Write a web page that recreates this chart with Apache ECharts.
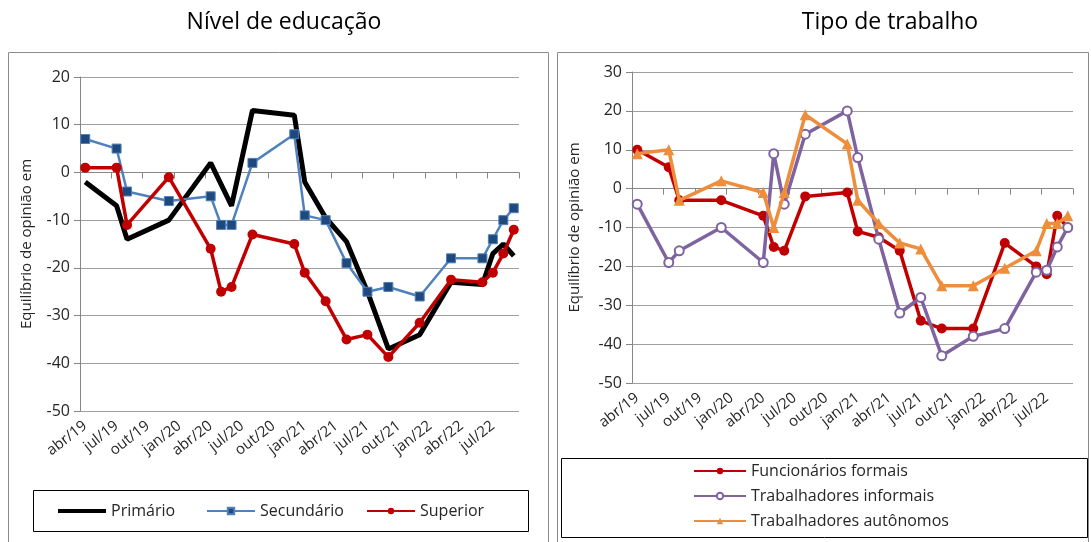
<!DOCTYPE html>
<html>
<head>
<meta charset="utf-8">
<script src="https://cdn.jsdelivr.net/npm/echarts@6/dist/echarts.min.js"></script>
<style>
html,body{margin:0;padding:0;background:#fff;}
#c{width:1091px;height:542px;}
</style>
</head>
<body>
<div id="c"></div>
<script>
const months = ['abr/19','mai/19','jun/19','jul/19','ago/19','set/19','out/19','nov/19','dez/19',
  'jan/20','fev/20','mar/20','abr/20','mai/20','jun/20','jul/20','ago/20','set/20','out/20','nov/20','dez/20',
  'jan/21','fev/21','mar/21','abr/21','mai/21','jun/21','jul/21','ago/21','set/21','out/21','nov/21','dez/21',
  'jan/22','fev/22','mar/22','abr/22','mai/22','jun/22','jul/22','ago/22','set/22'];
// quarter ticks on the zero axis (one band per quarter)
const quarters = ['abr/19','jul/19','out/19','jan/20','abr/20','jul/20','out/20',
  'jan/21','abr/21','jul/21','out/21','jan/22','abr/22','jul/22'];

const leftTitle = 'Nível de educação';
const rightTitle = 'Tipo de trabalho';
const yName = 'Equilíbrio de opinião em';

const primario = [['abr/19',-2],['jul/19',-7],['ago/19',-14],['dez/19',-10],['abr/20',2],['mai/20',-2.5],['jun/20',-7],
  ['ago/20',13],['dez/20',12],['jan/21',-2],['mar/21',-9.5],['mai/21',-14.5],['jul/21',-25],['set/21',-37],
  ['dez/21',-34],['mar/22',-23],['jun/22',-23.5],['jul/22',-17],['ago/22',-15],['set/22',-17.5]];
const secundario = [['abr/19',7],['jul/19',5],['ago/19',-4],['dez/19',-6],['abr/20',-5],['mai/20',-11],['jun/20',-11],
  ['ago/20',2],['dez/20',8],['jan/21',-9],['mar/21',-10],['mai/21',-19],['jul/21',-25],['set/21',-24],
  ['dez/21',-26],['mar/22',-18],['jun/22',-18],['jul/22',-14],['ago/22',-10],['set/22',-7.5]];
const superior = [['abr/19',1],['jul/19',1],['ago/19',-11],['dez/19',-1],['abr/20',-16],['mai/20',-25],['jun/20',-24],
  ['ago/20',-13],['dez/20',-15],['jan/21',-21],['mar/21',-27],['mai/21',-35],['jul/21',-34],['set/21',-38.7],
  ['dez/21',-31.5],['mar/22',-22.5],['jun/22',-23],['jul/22',-21],['ago/22',-17],['set/22',-12]];

const formais = [['abr/19',10],['jul/19',5.5],['ago/19',-3],['dez/19',-3],['abr/20',-7],['mai/20',-15],['jun/20',-16],
  ['ago/20',-2],['dez/20',-1],['jan/21',-11],['mar/21',-12.5],['mai/21',-16],['jul/21',-34],['set/21',-36],
  ['dez/21',-36],['mar/22',-14],['jun/22',-20],['jul/22',-22],['ago/22',-7],['set/22',-10]];
const informais = [['abr/19',-4],['jul/19',-19],['ago/19',-16],['dez/19',-10],['abr/20',-19],['mai/20',9],['jun/20',-4],
  ['ago/20',14],['dez/20',20],['jan/21',8],['mar/21',-13],['mai/21',-32],['jul/21',-28],['set/21',-43],
  ['dez/21',-38],['mar/22',-36],['jun/22',-21.5],['jul/22',-21],['ago/22',-15],['set/22',-10]];
const autonomos = [['abr/19',9],['jul/19',10],['ago/19',-3],['dez/19',2],['abr/20',-1],['mai/20',-10],['jun/20',-1],
  ['ago/20',19],['dez/20',11.5],['jan/21',-3],['mar/21',-9],['mai/21',-14],['jul/21',-15.5],['set/21',-25],
  ['dez/21',-25],['mar/22',-20.5],['jun/22',-16],['jul/22',-9],['ago/22',-9],['set/22',-7]];

const FONT = 'Open Sans';
const TXT = '#262626';
const GRID = '#a0a0a0';
const AX = '#868686';

const plots = [
  {left: 80, top: 77, width: 439, height: 334, min: -50, max: 20},
  {left: 632, top: 72, width: 441, height: 311, min: -50, max: 30}
];

// main grids + helper grids ending on the zero line (they carry the ticked zero axis)
const gridList = plots.map(g => ({left: g.left, top: g.top, width: g.width, height: g.height}))
  .concat(plots.map(g => ({left: g.left, top: g.top, width: g.width,
    height: g.height * g.max / (g.max - g.min)})));

function labelAxis(gi) {
  return {gridIndex: gi, type: 'category', data: months, boundaryGap: true, position: 'bottom',
    axisLine: {show: false, onZero: false}, axisTick: {show: false},
    axisLabel: {interval: 2, rotate: 38, margin: 13, fontSize: 15, fontFamily: FONT, color: TXT},
    splitLine: {show: false}};
}
function zeroAxis(gi) {
  return {gridIndex: gi, type: 'category', data: quarters, boundaryGap: true, position: 'bottom', z: 0,
    axisLine: {show: true, onZero: false, lineStyle: {color: AX, width: 1}},
    axisTick: {show: true, interval: 0, length: 6, lineStyle: {color: AX, width: 1}},
    axisLabel: {show: false}, splitLine: {show: false}};
}
function yAxis(gi, gap) {
  const g = plots[gi];
  return {gridIndex: gi, type: 'value', min: g.min, max: g.max, interval: 10,
    name: yName, nameLocation: 'middle', nameRotate: 90, nameGap: gap,
    nameTextStyle: {fontSize: 15, fontFamily: FONT, color: TXT},
    axisLine: {show: true, lineStyle: {color: AX}},
    axisTick: {show: true, length: 6, lineStyle: {color: AX}},
    axisLabel: {fontSize: 16, fontFamily: FONT, color: TXT, margin: 10},
    splitLine: {show: true, lineStyle: {color: GRID, width: 1}}};
}
function hiddenY(gi) {
  return {gridIndex: gi, type: 'value', min: 0, max: 1, show: false};
}

const thickIcon = 'path://M0,0 M0,2 L48,2 L48,6 L0,6 Z M48,8';
const legText = {fontSize: 16, fontFamily: FONT, color: TXT};

const chart = echarts.init(document.getElementById('c'), null, {renderer: 'canvas'});
chart.setOption({
  animation: false,
  backgroundColor: '#fff',
  textStyle: {fontFamily: FONT},
  grid: gridList,
  xAxis: [labelAxis(0), labelAxis(1), zeroAxis(2), zeroAxis(3)],
  yAxis: [yAxis(0, 46), yAxis(1, 50), hiddenY(2), hiddenY(3)],
  legend: [
    {data: [{name: 'Primário', icon: thickIcon}], left: 58, top: 503, padding: 0,
     itemWidth: 48, itemHeight: 8, textStyle: legText},
    {data: ['Secundário'], left: 206, top: 503, padding: 0,
     itemWidth: 48, itemHeight: 8, textStyle: legText},
    {data: ['Superior'], left: 366, top: 503, padding: 0,
     itemWidth: 48, itemHeight: 8, textStyle: legText},
    {data: ['Funcionários formais', 'Trabalhadores informais', 'Trabalhadores autônomos'], orient: 'vertical',
     left: 693, top: 463, padding: 0, itemWidth: 52, itemHeight: 8, itemGap: 9,
     textStyle: legText}
  ],
  graphic: [
    {type: 'rect', silent: true, shape: {x: 8.5, y: 52.5, width: 540, height: 500}, style: {fill: 'none', stroke: '#8c8c8c', lineWidth: 1}},
    {type: 'rect', silent: true, shape: {x: 557.5, y: 52.5, width: 531, height: 500}, style: {fill: 'none', stroke: '#8c8c8c', lineWidth: 1}},
    {type: 'rect', silent: true, shape: {x: 33.5, y: 490.5, width: 495, height: 41}, style: {fill: 'none', stroke: '#000', lineWidth: 1}},
    {type: 'rect', silent: true, shape: {x: 561.5, y: 458.5, width: 526, height: 79}, style: {fill: 'none', stroke: '#000', lineWidth: 1}},
    {type: 'text', silent: true, x: 284, y: 22, style: {text: leftTitle, fontSize: 23, fontFamily: FONT, fill: '#000', align: 'center', verticalAlign: 'middle'}},
    {type: 'text', silent: true, x: 890, y: 22, style: {text: rightTitle, fontSize: 23, fontFamily: FONT, fill: '#000', align: 'center', verticalAlign: 'middle'}}
  ],
  series: [
    {name: 'Primário', type: 'line', xAxisIndex: 0, yAxisIndex: 0, data: primario, symbol: 'none', z: 3,
     lineStyle: {color: '#000', width: 5}, itemStyle: {color: '#000'}},
    {name: 'Secundário', type: 'line', xAxisIndex: 0, yAxisIndex: 0, data: secundario, symbol: 'rect', symbolSize: 9,
     showAllSymbol: true, z: 4,
     lineStyle: {color: '#4F81BD', width: 2.5}, itemStyle: {color: '#1F497D', borderColor: '#4F81BD', borderWidth: 1}},
    {name: 'Superior', type: 'line', xAxisIndex: 0, yAxisIndex: 0, data: superior, symbol: 'circle', symbolSize: 10,
     showAllSymbol: true, z: 5,
     lineStyle: {color: '#C00000', width: 3.5}, itemStyle: {color: '#C00000'}},
    {name: 'Funcionários formais', type: 'line', xAxisIndex: 1, yAxisIndex: 1, data: formais, symbol: 'circle', symbolSize: 10,
     showAllSymbol: true, z: 3,
     lineStyle: {color: '#C00000', width: 3.5}, itemStyle: {color: '#C00000'}},
    {name: 'Trabalhadores informais', type: 'line', xAxisIndex: 1, yAxisIndex: 1, data: informais, symbol: 'emptyCircle', symbolSize: 9,
     showAllSymbol: true, z: 4,
     lineStyle: {color: '#7F63A1', width: 3.5}, itemStyle: {color: '#7F63A1', borderWidth: 1.5}},
    {name: 'Trabalhadores autônomos', type: 'line', xAxisIndex: 1, yAxisIndex: 1, data: autonomos, symbol: 'triangle', symbolSize: 11,
     showAllSymbol: true, z: 5,
     lineStyle: {color: '#EE8D3B', width: 3.5}, itemStyle: {color: '#EE8D3B'}}
  ]
});
</script>
</body>
</html>
